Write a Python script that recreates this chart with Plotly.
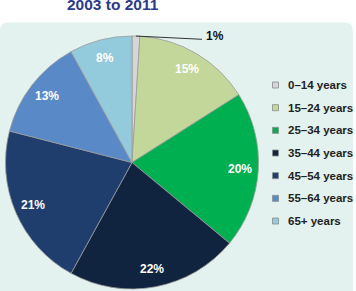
import math
import plotly.graph_objects as go

categories = ["0–14 years", "15–24 years", "25–34 years", "35–44 years",
              "45–54 years", "55–64 years", "65+ years"]
values = [1, 15, 20, 22, 21, 13, 8]
colors = ["#d6d6d6", "#c4d79b", "#00b050", "#10233f", "#1f3e6d", "#5a89c8", "#93cbdc"]
title_text = "2003 to 2011"

W, H = 356, 291
cx, cy, r = 132, 162.5, 126.5

def px(x): return x / W
def py(y): return 1 - y / H

fig = go.Figure()
fig.add_trace(go.Pie(
    labels=categories, values=values, sort=False, direction="clockwise",
    rotation=0,
    marker=dict(colors=colors, line=dict(color="#9a9a9a", width=0.8)),
    textinfo="none", hoverinfo="label+percent",
    domain=dict(x=[px(cx - r), px(cx + r)], y=[py(cy + r), py(cy - r)]),
    showlegend=False,
))

# background panel with rounded corners
x0, y0, x1, y1, rr = 0, 22.5, 353, 300, 8
path = (f"M {px(x0)},{py(y0+rr)} Q {px(x0)},{py(y0)} {px(x0+rr)},{py(y0)} "
        f"L {px(x1-rr)},{py(y0)} Q {px(x1)},{py(y0)} {px(x1)},{py(y0+rr)} "
        f"L {px(x1)},{py(y1)} L {px(x0)},{py(y1)} Z")
fig.add_shape(type="path", path=path, xref="paper", yref="paper",
              fillcolor="#e3f2ee", line=dict(width=0), layer="below")

# slice labels placed on each slice's mid-angle
total = sum(values)
cum = 0
for i, v in enumerate(values):
    mid = (cum + v / 2) / total * 2 * math.pi
    cum += v
    txt = f"<b>{v}%</b>"
    if i == 0:
        # small slice: outside label with leader line
        sx = cx + r * math.sin(mid)
        sy = cy - r * math.cos(mid)
        fig.add_shape(type="line", xref="paper", yref="paper",
                      x0=px(sx), y0=py(sy), x1=px(202), y1=py(39.3),
                      line=dict(color="#333333", width=1))
        fig.add_annotation(x=px(204), y=py(35.5), xref="paper", yref="paper",
                           text=txt, showarrow=False, xanchor="left", yanchor="middle",
                           font=dict(size=12, color="#111111", family="Liberation Sans"))
        continue
    f = 0.855
    lx = cx + f * r * math.sin(mid)
    ly = cy - f * r * math.cos(mid)
    fig.add_annotation(x=px(lx), y=py(ly), xref="paper", yref="paper",
                       text=txt, showarrow=False, xanchor="center", yanchor="middle",
                       font=dict(size=12, color="white", family="Liberation Sans"))

# manual legend
leg_y0, leg_dy, sq = 85, 22.67, 6
for i, (c, col) in enumerate(zip(categories, colors)):
    yc = leg_y0 + i * leg_dy
    fig.add_shape(type="rect", xref="paper", yref="paper",
                  x0=px(272.5), x1=px(272.5 + sq), y0=py(yc - sq / 2), y1=py(yc + sq / 2),
                  fillcolor=col, line=dict(color="#8a8a8a", width=0.8))
    fig.add_annotation(x=px(285.5), y=py(yc), xref="paper", yref="paper",
                       text=f"<b>{c}</b>", showarrow=False, xanchor="left", yanchor="middle",
                       font=dict(size=11.5, color="#222222", family="Liberation Sans"))

# title (partially cut at top)
fig.add_annotation(x=px(113), y=py(14.5), xref="paper", yref="paper",
                   text=f"<b>{title_text}</b>", showarrow=False,
                   xanchor="center", yanchor="bottom",
                   font=dict(size=15.5, color="#2b3a8c", family="Liberation Sans"))

fig.update_layout(
    width=W, height=H, margin=dict(l=0, r=0, t=0, b=0, autoexpand=False),
    paper_bgcolor="white", plot_bgcolor="white", showlegend=False,
)

fig.write_html("out.html")
